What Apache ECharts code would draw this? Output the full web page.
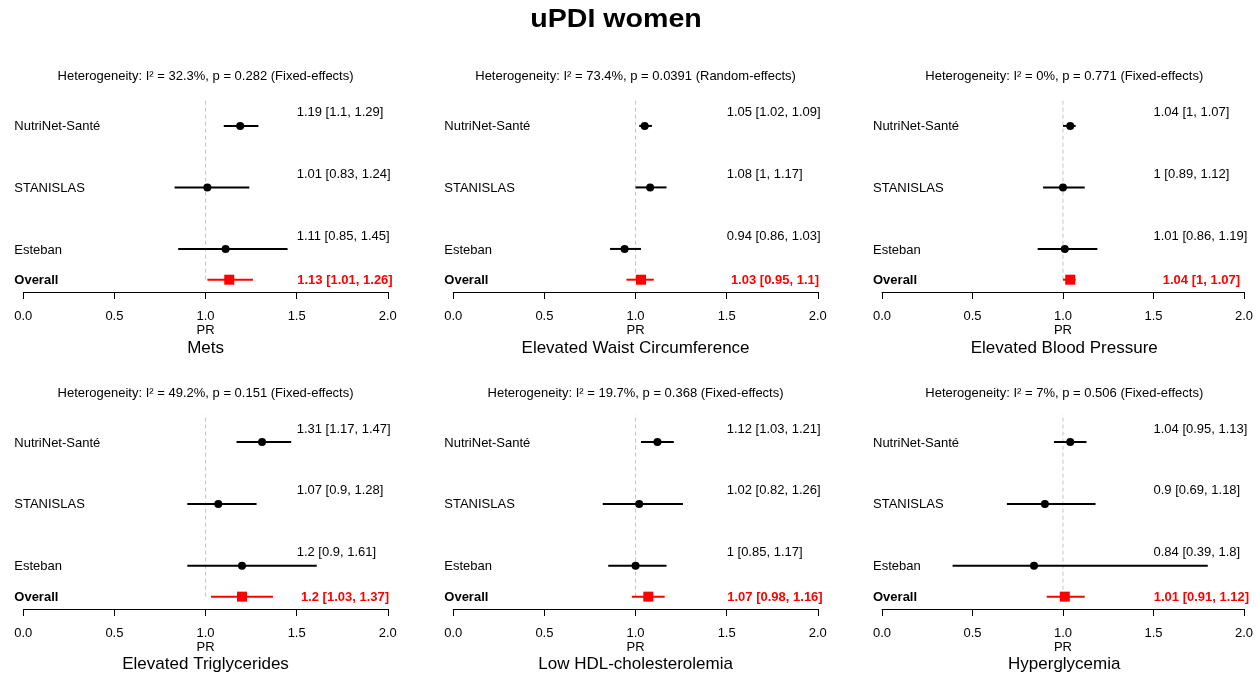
<!DOCTYPE html>
<html><head><meta charset="utf-8">
<script src="https://cdn.jsdelivr.net/npm/echarts@6/dist/echarts.min.js"></script>
<style>html,body{margin:0;padding:0;background:#fff}#c{width:1256px;height:675px}</style>
</head><body><div id="c"></div>
<script>
const mainTitle = 'uPDI women';
const studies = ['NutriNet-Santé', 'STANISLAS', 'Esteban'];
const overallName = 'Overall';
const outcomes = ['Mets', 'Elevated Waist Circumference', 'Elevated Blood Pressure',
                  'Elevated Triglycerides', 'Low HDL-cholesterolemia', 'Hyperglycemia'];
const heterogeneity = [
  'Heterogeneity: I² = 32.3%, p = 0.282 (Fixed-effects)',
  'Heterogeneity: I² = 73.4%, p = 0.0391 (Random-effects)',
  'Heterogeneity: I² = 0%, p = 0.771 (Fixed-effects)',
  'Heterogeneity: I² = 49.2%, p = 0.151 (Fixed-effects)',
  'Heterogeneity: I² = 19.7%, p = 0.368 (Fixed-effects)',
  'Heterogeneity: I² = 7%, p = 0.506 (Fixed-effects)'
];
const studyEst = [[1.19, 1.01, 1.11], [1.05, 1.08, 0.94], [1.04, 1, 1.01], [1.31, 1.07, 1.2], [1.12, 1.02, 1], [1.04, 0.9, 0.84]];
const studyLo  = [[1.1, 0.83, 0.85], [1.02, 1, 0.86], [1, 0.89, 0.86], [1.17, 0.9, 0.9], [1.03, 0.82, 0.85], [0.95, 0.69, 0.39]];
const studyHi  = [[1.29, 1.24, 1.45], [1.09, 1.17, 1.03], [1.07, 1.12, 1.19], [1.47, 1.28, 1.61], [1.21, 1.26, 1.17], [1.13, 1.18, 1.8]];
const overallEst = [1.13, 1.03, 1.04, 1.2, 1.07, 1.01];
const overallLo  = [1.01, 0.95, 1, 1.03, 0.98, 0.91];
const overallHi  = [1.26, 1.1, 1.07, 1.37, 1.16, 1.12];
const xTickLabels = ['0.0', '0.5', '1.0', '1.5', '2.0'];
const axisTitle = 'PR';

const FONT = 'Liberation Sans, Arial, sans-serif';
const gridLefts = [23.3, 453.3, 882];
const gridWidth = 364.5;
const gridTops = [89, 405];
const gridHeights = [203, 204];
const rowPos = [3, 2, 1];
const overallPos = 0.5;

const chart = echarts.init(document.getElementById('c'));
const grids = [], xAxes = [], yAxes = [], series = [], graphics = [];

graphics.push({type: 'text', x: 616, y: 20, scaleX: 1.1, style: {text: mainTitle, fontFamily: FONT, fontSize: 26, fontWeight: 'bold', fill: '#000', align: 'center', verticalAlign: 'middle'}});

for (let k = 0; k < 6; k++) {
  const col = k % 3, r = Math.floor(k / 3);
  grids.push({left: gridLefts[col], top: gridTops[r], width: gridWidth, height: gridHeights[r], containLabel: false});
  xAxes.push({
    type: 'value', gridIndex: k, min: 0, max: 2, interval: 0.5,
    axisLine: {show: true, lineStyle: {color: '#000', width: 1}},
    axisTick: {show: true, length: 7, lineStyle: {color: '#000', width: 1}},
    axisLabel: {fontFamily: FONT, fontSize: 13, color: '#000', margin: 18,
      formatter: v => xTickLabels[Math.round(v / 0.5)]},
    splitLine: {show: false},
    name: axisTitle, nameLocation: 'middle', nameGap: 32,
    nameTextStyle: {fontFamily: FONT, fontSize: 13, color: '#000'}
  });
  yAxes.push({type: 'value', gridIndex: k, min: 0.3, max: 3.6, show: false});

  const data = [];
  for (let i = 0; i < studies.length; i++) data.push([studyEst[k][i], studyLo[k][i], studyHi[k][i], rowPos[i], 0]);
  data.push([overallEst[k], overallLo[k], overallHi[k], overallPos, 1]);

  series.push({
    type: 'line', xAxisIndex: k, yAxisIndex: k, silent: true, symbol: 'none', z: 1,
    data: [[1, overallPos], [1, 3.45]],
    lineStyle: {color: '#c4c4c4', width: 1, type: [4, 3]}
  });

  series.push({
    type: 'custom', xAxisIndex: k, yAxisIndex: k, clip: false, z: 5,
    data: data,
    renderItem: (params, api) => {
      const idx = params.dataIndex;
      const est = api.value(0), lo = api.value(1), hi = api.value(2), row = api.value(3), ov = api.value(4) === 1;
      const p = api.coord([est, row]), pl = api.coord([lo, row]), ph = api.coord([hi, row]);
      const color = ov ? '#ff0000' : '#000';
      const children = [
        {type: 'line', shape: {x1: pl[0], y1: p[1], x2: ph[0], y2: p[1]}, style: {stroke: color, lineWidth: 2}},
        ov ? {type: 'rect', shape: {x: p[0] - 5, y: p[1] - 5, width: 10, height: 10}, style: {fill: color}}
           : {type: 'circle', shape: {cx: p[0], cy: p[1], r: 4}, style: {fill: color}}
      ];
      const name = ov ? overallName : studies[idx];
      const x0 = api.coord([0, row])[0];
      children.push({type: 'text', x: x0 - 9, y: p[1] + 1, style: {text: name, fontFamily: FONT, fontSize: 13,
        fontWeight: ov ? 'bold' : 'normal', fill: '#000', align: 'left', verticalAlign: 'middle'}});
      const lbl = `${est} [${lo}, ${hi}]`;
      if (ov) {
        const lx = api.coord([1.765, row])[0];
        children.push({type: 'text', x: lx, y: p[1] + 1, style: {text: lbl, fontFamily: FONT, fontSize: 13,
          fontWeight: 'bold', fill: '#ff0000', align: 'center', verticalAlign: 'middle'}});
      } else {
        const lx = api.coord([1.5, row])[0];
        children.push({type: 'text', x: lx, y: p[1] - 13, style: {text: lbl, fontFamily: FONT, fontSize: 13,
          fill: '#000', align: 'left', verticalAlign: 'middle'}});
      }
      return {type: 'group', children};
    }
  });

  const cx = gridLefts[col] + gridWidth / 2;
  graphics.push({type: 'text', x: cx, y: r === 0 ? 76 : 393, style: {text: heterogeneity[k], fontFamily: FONT, fontSize: 13, fill: '#000', align: 'center', verticalAlign: 'middle'}});
  graphics.push({type: 'text', x: cx, y: r === 0 ? 348 : 664, style: {text: outcomes[k], fontFamily: FONT, fontSize: 17, fill: '#000', align: 'center', verticalAlign: 'middle'}});
}

chart.setOption({
  animation: false,
  backgroundColor: '#fff',
  grid: grids, xAxis: xAxes, yAxis: yAxes, series: series, graphic: graphics
});
</script></body></html>
